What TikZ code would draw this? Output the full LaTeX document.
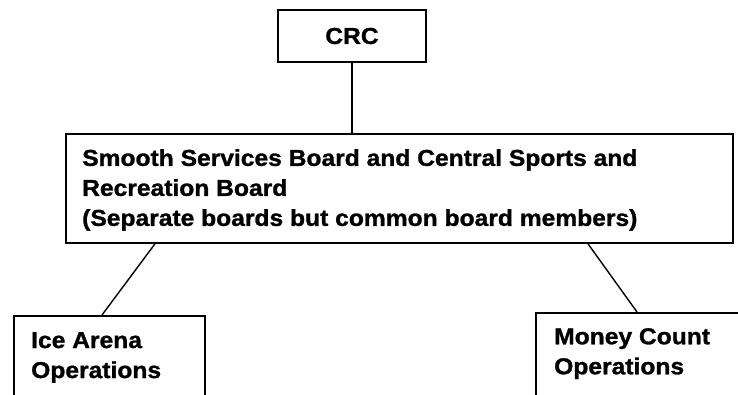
\documentclass[tikz,border=0pt]{standalone}
\usepackage{fontspec}
\setmainfont{Liberation Sans}[FakeStretch=1.07, BoldFeatures={FakeBold=1.2}]
\begin{document}
\begin{tikzpicture}[
            x=1pt, y=-1pt,
            font=\bfseries\fontsize{23}{30}\selectfont,
            org box/.style  ={draw, line width=1.8pt, inner sep=0pt},
            org text/.style ={anchor=north west, align=left, inner sep=0pt},
            org link/.style ={line width=1.4pt}
        ]
        \clip (0,0) rectangle (738,394);
        \fill[white] (0,0) rectangle (738,394);
        %% --- top: CRC ---------------------------------------------------------
        \node[org box, minimum width=148pt, minimum height=52pt] (crc) at (352,36) {CRC};
        %% --- middle: the two boards -------------------------------------------
        \node[org box, minimum width=667pt, minimum height=109pt, anchor=north west] (board) at (65,133) {};
        \node[org text] (boardtxt) at (82,149) {Smooth Services Board and Central Sports and\\Recreation Board\\(Separate boards but common board members)};
        %% --- bottom: operations -----------------------------------------------
        \node[org box, minimum width=191pt, minimum height=120pt, anchor=north west] (ice) at (13,315) {};
        \node[org text] (icetxt) at (31,332) {Ice Arena\\Operations};
        \node[org box, minimum width=230pt, minimum height=120pt, anchor=north west] (money) at (535,312) {};
        \node[org text] (moneytxt) at (554,328) {Money Count\\Operations};
        %% --- links ------------------------------------------------------------
        \draw[org link] (crc.south) -- (crc.south |- board.north);
        \draw[org link] ([xshift=90pt]board.south west) -- ([xshift=89pt]ice.north west);
        \draw[org link] ([xshift=523pt]board.south west) -- ([xshift=102pt]money.north west);
    \end{tikzpicture}
\end{document}
